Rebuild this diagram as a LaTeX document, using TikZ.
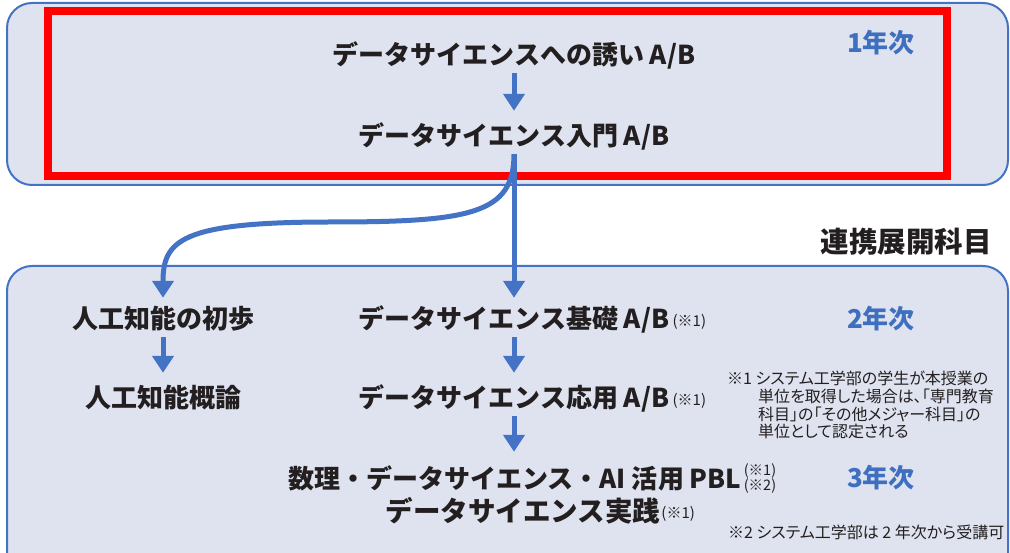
\documentclass[tikz,border=0pt]{standalone}
\usepackage{fontspec}
\newfontfamily\jp{Noto Sans CJK JP}
\newfontfamily\jpp{Noto Sans CJK JP}[RawFeature=+palt]
\usetikzlibrary{arrows.meta}
\definecolor{bl}{HTML}{4472C4}
\definecolor{bgf}{HTML}{DFE3EF}
\definecolor{tx}{HTML}{231F20}
\definecolor{yr}{HTML}{3F6FBF}
\begin{document}
\begin{tikzpicture}[x=1pt,y=-1pt,
  panel/.style={draw=bl, line width=2pt, fill=bgf, rounded corners=25pt},
  main/.style={font=\jp\bfseries\fontsize{26}{30}\selectfont, text=tx, minimum height=36pt, inner sep=0pt},
  small/.style={font=\jp\fontsize{15}{17}\selectfont, text=tx, inner sep=0pt},
  year/.style={font=\jp\bfseries\fontsize{26}{30}\selectfont, text=yr, inner sep=0pt},
  notetext/.style={font=\jpp\fontsize{16}{17.5}\selectfont, text=tx, inner sep=0pt, align=left},
  arr/.style={draw=bl, line width=5pt, -{Triangle[width=21pt,length=17pt]}}
]
\useasboundingbox (0,0) rectangle (1010,553);
\clip (0,0) rectangle (1010,553);
\fill[white] (0,0) rectangle (1010,553);
% panels
\draw[panel] (7,3) rectangle (1008,185);
\draw[panel] (7,266) rectangle (1008,580);
\draw[red, line width=8pt] (47.5,11.5) rectangle (947,176);
% top texts
\node[main] (intro) at (514,55) {データサイエンスへの誘い A/B};
\node[main] (nyumon) at (514,136) {データサイエンス入門 A/B};
\node[year] (y1) at (881,43) {1年次};
\node[font=\jp\bfseries\fontsize{28.5}{30}\selectfont, text=tx, inner sep=0pt] (renkei) at (906,242) {連携展開科目};
% bottom texts
\node[main] (ai1) at (163,319) {人工知能の初歩};
\node[main] (ai2) at (163,398) {人工知能概論};
\node[main] (kiso) at (514,319) {データサイエンス基礎 A/B};
\node[main] (oyo) at (514,398) {データサイエンス応用 A/B};
\node[main] (pbl) at (515,478) {数理・データサイエンス・AI 活用 PBL};
\node[main, font=\jp\bfseries\fontsize{27.5}{30}\selectfont] (jissen) at (523,511) {データサイエンス実践};
\node[small, anchor=west] (k1) at ([xshift=3pt,yshift=-3pt]kiso.east) {(※1)};
\node[small, anchor=west] (o1) at ([xshift=3pt,yshift=-3pt]oyo.east) {(※1)};
\node[small, anchor=west, align=center, font=\jp\fontsize{14.5}{15}\selectfont] (p1) at ([xshift=2pt]pbl.east) {(※1)\\(※2)};
\node[small, anchor=west] (j1) at ([xshift=1pt,yshift=-3pt]jissen.east) {(※1)};
\node[year] (y2) at (881,319) {2年次};
\node[year] (y3) at (881,478) {3年次};
\node[notetext, anchor=north west] (note1a) at (727,371) {※1 システム工学部の学生が本授業の};
\node[notetext, anchor=north west] (note1b) at (758,389) {単位を取得した場合は、「専門教育\\科目」の「その他メジャー科目」の\\単位として認定される};
\node[notetext, anchor=north west] (note2) at (728,525) {※2 システム工学部は 2 年次から受講可};
% connectors
\coordinate (cm) at (330,222);
\draw[arr, shorten >=7pt] (intro.south) -- (nyumon.north);
\draw[arr, shorten >=3pt] (nyumon.south) -- (kiso.north);
\draw[arr, shorten >=3pt] (nyumon.south) .. controls +(0,60) and +(140,0) .. (cm) .. controls +(-150,0) and +(0,-60) .. (ai1.north);
\draw[arr, shorten >=7pt] (ai1.south) -- (ai2.north);
\draw[arr, shorten >=7pt] (kiso.south) -- (oyo.north);
\draw[arr, shorten >=8pt] (oyo.south) -- ([xshift=-1pt]pbl.north);
\end{tikzpicture}
\end{document}
